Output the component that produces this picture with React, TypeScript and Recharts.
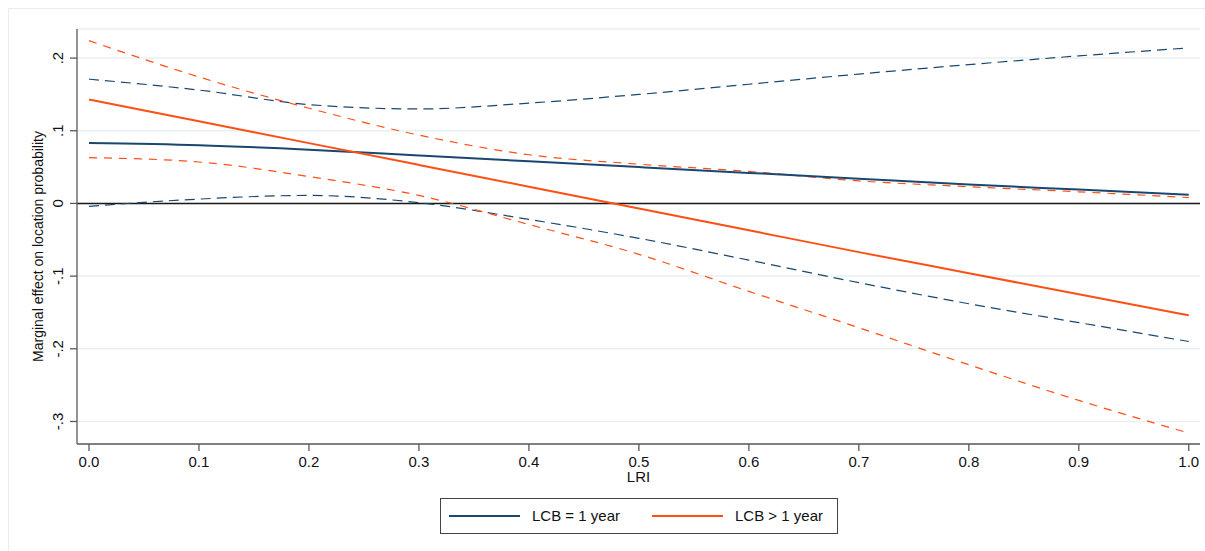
import { LineChart, Line, XAxis, YAxis, CartesianGrid, ReferenceLine, Label } from 'recharts'

const lri = [0, 0.1, 0.2, 0.3, 0.4, 0.5, 0.6, 0.7, 0.8, 0.9, 1.0]

// LCB = 1 year: estimate with 95% band
const lcbOne = [0.083, 0.08, 0.074, 0.066, 0.058, 0.05, 0.042, 0.034, 0.026, 0.019, 0.012]
const lcbOneHi = [0.171, 0.156, 0.136, 0.13, 0.138, 0.15, 0.164, 0.178, 0.191, 0.203, 0.214]
const lcbOneLo = [-0.004, 0.006, 0.011, 0.001, -0.022, -0.048, -0.078, -0.109, -0.138, -0.164, -0.19]

// LCB > 1 year
const lcbMore = [0.143, 0.113, 0.083, 0.053, 0.023, -0.007, -0.037, -0.067, -0.096, -0.125, -0.154]
const lcbMoreHi = [0.224, 0.174, 0.131, 0.094, 0.067, 0.054, 0.044, 0.031, 0.023, 0.016, 0.008]
const lcbMoreLo = [0.063, 0.057, 0.037, 0.011, -0.029, -0.07, -0.121, -0.171, -0.222, -0.271, -0.316]

const yTicks = [-0.3, -0.2, -0.1, 0, 0.1, 0.2]
const yTickLabels = ['-.3', '-.2', '-.1', '0', '.1', '.2']
const xTicks = lri

const NAVY = '#1a476f'
const ORANGE = '#ff4f14'
const FONT = '"Liberation Sans", Arial, sans-serif'

// the page's default 8px margin clips the right end, so place the chart ourselves
if (typeof document !== 'undefined') {
  document.body.style.margin = '0'
  document.body.style.overflow = 'hidden'
}

const data = lri.map((x, i) => ({
  x,
  one: lcbOne[i],
  oneHi: lcbOneHi[i],
  oneLo: lcbOneLo[i],
  more: lcbMore[i],
  moreHi: lcbMoreHi[i],
  moreLo: lcbMoreLo[i],
}))

function YTick(props: any) {
  const { x, y, payload } = props
  const idx = yTicks.findIndex(t => Math.abs(t - payload.value) < 1e-9)
  return (
    <text x={x} y={y} transform={`rotate(-90 ${x} ${y})`} textAnchor="middle"
      fontSize={15} fill="#111" fontFamily={FONT}>
      {idx >= 0 ? yTickLabels[idx] : ''}
    </text>
  )
}

function YTitle(props: any) {
  const vb = props.viewBox
  const cx = vb.x + 34
  const cy = vb.y + vb.height / 2 + 10
  return (
    <text x={cx} y={cy} transform={`rotate(-90 ${cx} ${cy})`} textAnchor="middle"
      fontSize={14} fill="#111" fontFamily={FONT}>
      Marginal effect on location probability
    </text>
  )
}

export default function App() {
  return (
    <div style={{ width: 1205, height: 551, overflow: 'hidden', background: '#fff', paddingLeft: 8, paddingTop: 8, boxSizing: 'border-box' }}>
      <div style={{ position: 'relative', width: 1197, height: 543, boxSizing: 'border-box',
        borderTop: '1px solid #e6eef0', borderLeft: '1px solid #e6eef0' }}>
        <LineChart width={1196} height={542} data={data}
          margin={{ top: 20, right: 5, left: 0, bottom: 67 }}>
          <CartesianGrid vertical={false} stroke="#e8f0f2" strokeWidth={1.5} />
          <XAxis dataKey="x" type="number" domain={[-0.0109, 1.0102]} ticks={xTicks}
            tickFormatter={(v: number) => v.toFixed(1)} height={40}
            axisLine={{ stroke: '#5a5a5a', strokeWidth: 1.3 }}
            tickLine={{ stroke: '#5a5a5a', strokeWidth: 1.3 }} tickSize={7} tickMargin={5}
            tick={{ fontSize: 15, fill: '#111', fontFamily: FONT }} interval={0}>
            <Label value="LRI" position="insideBottom" offset={2}
              style={{ fontSize: 15, fill: '#111', fontFamily: FONT }} />
          </XAxis>
          <YAxis type="number" domain={[-0.331, 0.24]} ticks={yTicks} width={68}
            axisLine={{ stroke: '#5a5a5a', strokeWidth: 1.3 }}
            tickLine={{ stroke: '#5a5a5a', strokeWidth: 1.3 }} tickSize={7} tickMargin={7}
            tick={<YTick />} interval={0} allowDataOverflow>
            <Label content={<YTitle />} />
          </YAxis>
          <ReferenceLine y={0} stroke="#1a1a1a" strokeWidth={1.6} />
          <Line dataKey="oneHi" type="monotone" stroke={NAVY} strokeWidth={1.2}
            strokeDasharray="10 6" dot={false} isAnimationActive={false} />
          <Line dataKey="oneLo" type="monotone" stroke={NAVY} strokeWidth={1.2}
            strokeDasharray="10 6" dot={false} isAnimationActive={false} />
          <Line dataKey="moreHi" type="monotone" stroke={ORANGE} strokeWidth={1.2}
            strokeDasharray="8 7" dot={false} isAnimationActive={false} />
          <Line dataKey="moreLo" type="monotone" stroke={ORANGE} strokeWidth={1.2}
            strokeDasharray="8 7" dot={false} isAnimationActive={false} />
          <Line dataKey="one" type="monotone" stroke={NAVY} strokeWidth={2}
            dot={false} isAnimationActive={false} />
          <Line dataKey="more" type="monotone" stroke={ORANGE} strokeWidth={2}
            dot={false} isAnimationActive={false} />
        </LineChart>
        <div style={{ position: 'absolute', left: 431, top: 489, width: 398, height: 36,
          boxSizing: 'border-box', border: '1px solid #444', fontFamily: FONT, fontSize: 15, color: '#111' }}>
          <div style={{ position: 'absolute', left: 8, top: 16, width: 71, height: 2, background: NAVY }} />
          <span style={{ position: 'absolute', left: 91, top: 8, lineHeight: '18px' }}>LCB = 1 year</span>
          <div style={{ position: 'absolute', left: 211, top: 16, width: 71, height: 2, background: ORANGE }} />
          <span style={{ position: 'absolute', left: 294, top: 8, lineHeight: '18px' }}>LCB &gt; 1 year</span>
        </div>
      </div>
    </div>
  )
}
